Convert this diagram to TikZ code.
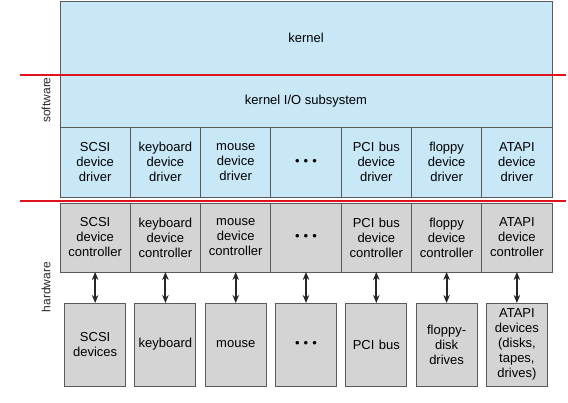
\documentclass[tikz,border=0pt]{standalone}
\usepackage{fontspec}
\setmainfont{Liberation Sans}
\usetikzlibrary{arrows.meta, positioning}
\definecolor{swblue}{HTML}{C8E8F8}
\definecolor{hwgray}{HTML}{D4D4D4}
\definecolor{edgegray}{HTML}{5A5A5A}
\definecolor{sepred}{HTML}{E0141E}
\newcommand{\dotrow}{\char"2022\hspace{4pt}\char"2022\hspace{4pt}\char"2022}
\tikzstyle{layer} = [rectangle, draw=edgegray, line width=0.9pt, outer sep=0pt,
    inner sep=0pt, text centered, font=\fontsize{13}{15}\selectfont]
\tikzstyle{drv} = [layer, fill=swblue, minimum width=70.29pt, minimum height=70pt,
    text width=66pt]
\tikzstyle{ctl} = [layer, fill=hwgray, minimum width=70.29pt, minimum height=69pt,
    text width=66pt]
\tikzstyle{dev} = [layer, fill=hwgray, minimum width=61pt, minimum height=83pt,
    text width=60pt]
\tikzstyle{link} = [draw, draw=black!85, line width=1.9pt, {Stealth[length=8pt,width=6.5pt]}-{Stealth[length=8pt,width=6.5pt]}]
\tikzstyle{sep} = [draw=sepred, line width=1.3pt]
\tikzstyle{side} = [rotate=90, font=\fontsize{12}{14}\selectfont, text=black!85]

\begin{document}
\begin{tikzpicture}[x=1pt, y=-1pt]
        \useasboundingbox (0,0) rectangle (568,402);
        % Place nodes
        \node [layer, fill=swblue, minimum width=492pt, minimum height=126pt] (core) at (306,64) {};
        \node [layer, draw=none] (kern) at (306,38) {kernel};
        \node [layer, draw=none] (kio) at (306,101) {kernel I/O subsystem};
        \node [drv, anchor=north west] (dSCSI) at (60,127) {SCSI\\device\\driver};
        \node [drv] (dKbd) [right =0pt of dSCSI] {keyboard\\device\\driver};
        \node [drv] (dMouse) [right =0pt of dKbd] {mouse\\device\\driver};
        \node [drv] (dDots) [right =0pt of dMouse] {\dotrow};
        \node [drv] (dPCI) [right =0pt of dDots] {PCI bus\\device\\driver};
        \node [drv] (dFloppy) [right =0pt of dPCI] {floppy\\device\\driver};
        \node [drv] (dATAPI) [right =0pt of dFloppy] {ATAPI\\device\\driver};
        \node [ctl, anchor=north west] (cSCSI) at (60,203) {SCSI\\device\\controller};
        \node [ctl] (cKbd) [right =0pt of cSCSI] {keyboard\\device\\controller};
        \node [ctl] (cMouse) [right =0pt of cKbd] {mouse\\device\\controller};
        \node [ctl] (cDots) [right =0pt of cMouse] {\dotrow};
        \node [ctl] (cPCI) [right =0pt of cDots] {PCI bus\\device\\controller};
        \node [ctl] (cFloppy) [right =0pt of cPCI] {floppy\\device\\controller};
        \node [ctl] (cATAPI) [right =0pt of cFloppy] {ATAPI\\device\\controller};
        \node [dev] (vSCSI) [below =31pt of cSCSI] {SCSI\\devices};
        \node [dev] (vKbd) [below =31pt of cKbd] {keyboard};
        \node [dev] (vMouse) [below =31pt of cMouse] {mouse};
        \node [dev] (vDots) [below =31pt of cDots] {\dotrow};
        \node [dev] (vPCI) [below =31pt of cPCI] {PCI bus};
        \node [dev] (vFloppy) [below =31pt of cFloppy] {floppy-\\disk\\drives};
        \node [dev] (vATAPI) [below =31pt of cATAPI] {ATAPI\\devices\\(disks,\\tapes,\\drives)};
        \node [side] (sw) at (46,100) {software};
        \node [side] (hw) at (46,287) {hardware};
        % Draw separators and edges
        \path [sep] (20,75) -- (566,75);
        \path [sep] (20,201) -- (566,201);
        \foreach \dv in {SCSI,Kbd,Mouse,Dots,PCI,Floppy,ATAPI}
            \path [link] (c\dv) -- (v\dv);
    \end{tikzpicture}
\end{document}
